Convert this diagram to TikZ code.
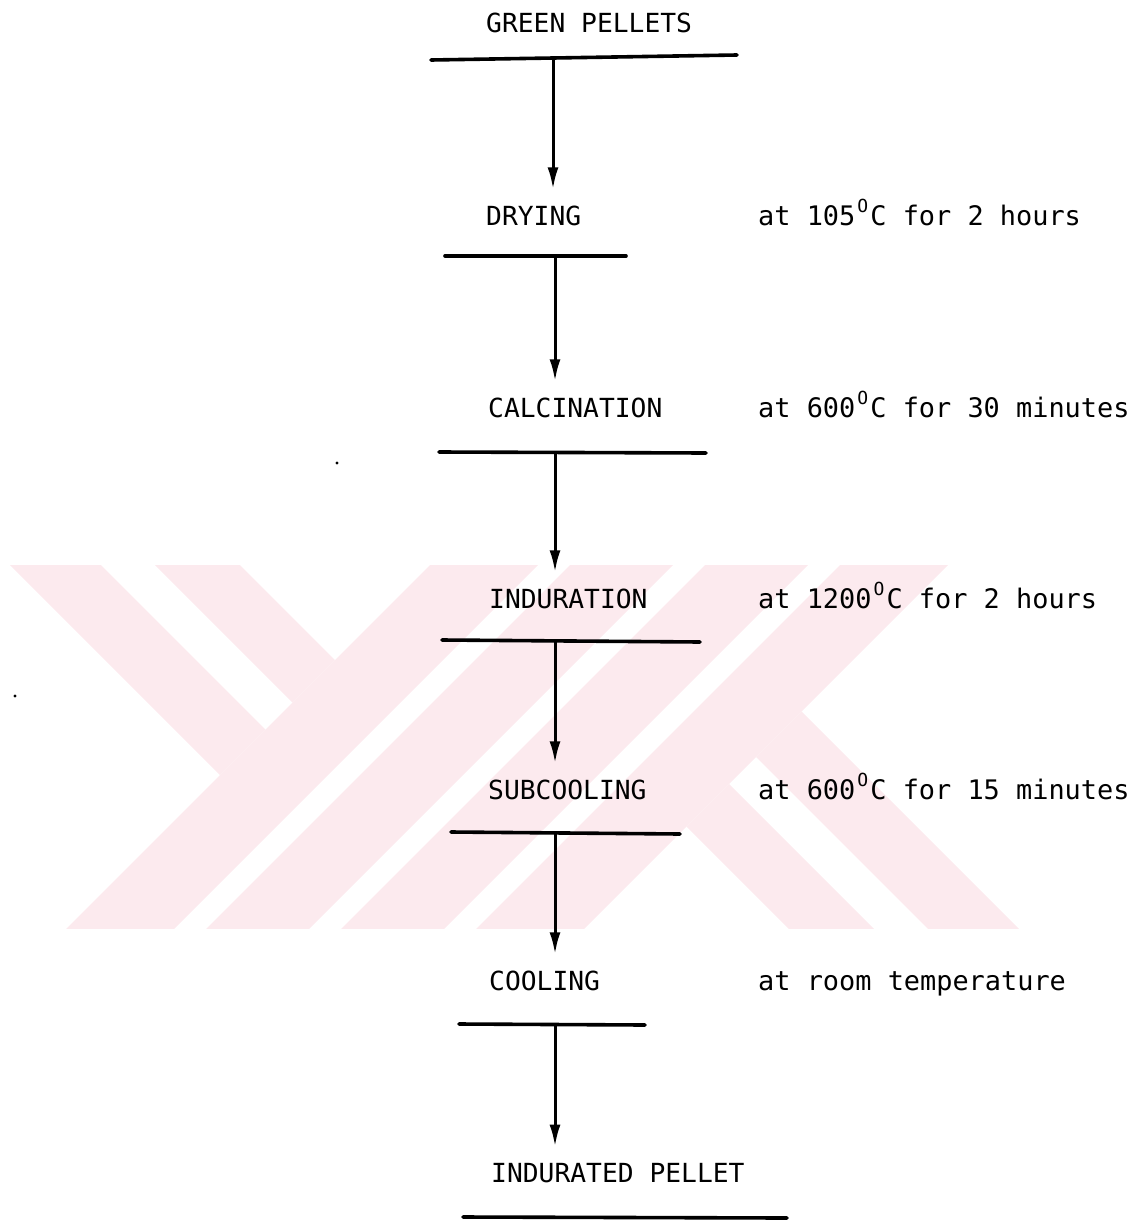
\documentclass[tikz,border=0pt]{standalone}
\usepackage{fontspec}
\setmonofont{DejaVu Sans Mono}
\usetikzlibrary{arrows.meta}
\definecolor{wm}{RGB}{252,234,238}
\newcommand\dg{\hbox to 15pt{\hss\raisebox{13pt}{\fontsize{18}{18}\selectfont O}\hss}}
\begin{document}
\begin{tikzpicture}[x=1pt,y=-1pt,
  lbl/.style={anchor=base west, inner sep=0pt, font=\fontsize{26.3}{30}\selectfont\ttfamily},
  cond/.style={lbl, font=\fontsize{26.9}{30}\selectfont\ttfamily},
  bar/.style={line width=3.6pt, line cap=round},
  flow/.style={line width=3pt, -{Latex[length=22pt,width=11pt]}, shorten >=16pt},
  speck/.style={fill=black}
]
\useasboundingbox (0,0) rectangle (1144,1220);
% watermark
\begin{scope}
  \clip (0,565) rectangle (1144,928);
  \foreach \r in {0,180}{
    \begin{scope}[rotate around={\r:(510.75,743.25)}]
      \fill[wm] (-55,500) -- (36,500) -- (265.5,729.5) -- (220,775) -- cycle;
      \fill[wm] (90,500) -- (175,500) -- (335,660) -- (292.5,702.5) -- cycle;
      \fill[wm] (495,500) -- (603,500) -- (103,1000) -- (-5,1000) -- cycle;
      \fill[wm] (635,500) -- (738,500) -- (238,1000) -- (135,1000) -- cycle;
    \end{scope}
  }
\end{scope}
% specks
\fill[speck] (337,463) circle (1.6);
\fill[speck] (15,696) circle (1.6);
% stage labels
\node[lbl] (t0) at (486,33) {GREEN PELLETS};
\node[lbl] (t1) at (486,225) {DRYING};
\node[lbl] (t2) at (488,417) {CALCINATION};
\node[lbl] (t3) at (489,608) {INDURATION};
\node[lbl] (t4) at (488,799) {SUBCOOLING};
\node[lbl] (t5) at (489,990) {COOLING};
\node[lbl] (t6) at (491,1182) {INDURATED PELLET};
% conditions
\node[cond] (c1) at (758,225) {at 105\dg C for 2 hours};
\node[cond] (c2) at (758,417) {at 600\dg C for 30 minutes};
\node[cond] (c3) at (758,608) {at 1200\dg C for 2 hours};
\node[cond] (c4) at (758,799) {at 600\dg C for 15 minutes};
\node[cond] (c5) at (758,990) {at room temperature};
% bars
\coordinate (b0w) at (431,60);  \coordinate (b0e) at (737,55);
\coordinate (b1w) at (445,256); \coordinate (b1e) at (626,256);
\coordinate (b2w) at (439,452); \coordinate (b2e) at (706,453);
\coordinate (b3w) at (442,640); \coordinate (b3e) at (700,642);
\coordinate (b4w) at (451,832); \coordinate (b4e) at (680,834);
\coordinate (b5w) at (459,1024); \coordinate (b5e) at (645,1025);
\coordinate (b6w) at (463,1217); \coordinate (b6e) at (787,1218);
\foreach \i in {0,...,6}{\draw[bar] (b\i w) -- (b\i e);}
% arrow origins on bars
\coordinate (a0) at (553,58);
\coordinate (a1) at (555,256);
\coordinate (a2) at (555,452);
\coordinate (a3) at (555,641);
\coordinate (a4) at (555,833);
\coordinate (a5) at (555,1024);
\draw[flow] (a0) -- (a0 |- t1.north);
\draw[flow] (a1) -- (a1 |- t2.north);
\draw[flow] (a2) -- (a2 |- t3.north);
\draw[flow] (a3) -- (a3 |- t4.north);
\draw[flow] (a4) -- (a4 |- t5.north);
\draw[flow] (a5) -- (a5 |- t6.north);
\end{tikzpicture}
\end{document}
